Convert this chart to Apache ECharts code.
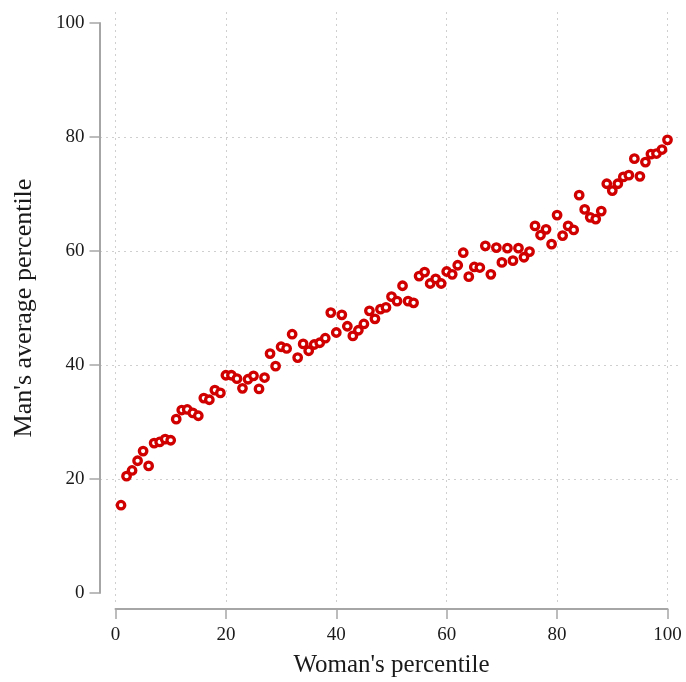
<!DOCTYPE html>
<html>
<head>
<meta charset="utf-8">
<script src="https://cdn.jsdelivr.net/npm/echarts@6/dist/echarts.min.js"></script>
<style>
  html, body { margin: 0; padding: 0; background: #fff; }
  #chart { width: 686px; height: 682px; }
</style>
</head>
<body>
<div id="chart"></div>
<script>
// Woman's percentile (1..100)
const womanPct = [
  1, 2, 3, 4, 5, 6, 7, 8, 9, 10,
  11, 12, 13, 14, 15, 16, 17, 18, 19, 20,
  21, 22, 23, 24, 25, 26, 27, 28, 29, 30,
  31, 32, 33, 34, 35, 36, 37, 38, 39, 40,
  41, 42, 43, 44, 45, 46, 47, 48, 49, 50,
  51, 52, 53, 54, 55, 56, 57, 58, 59, 60,
  61, 62, 63, 64, 65, 66, 67, 68, 69, 70,
  71, 72, 73, 74, 75, 76, 77, 78, 79, 80,
  81, 82, 83, 84, 85, 86, 87, 88, 89, 90,
  91, 92, 93, 94, 95, 96, 97, 98, 99, 100
];
// Man's average percentile for each woman's percentile
const manAvgPct = [
  15.4, 20.5, 21.5, 23.2, 24.9, 22.3, 26.3, 26.5, 27.0, 26.8,
  30.5, 32.1, 32.2, 31.6, 31.1, 34.2, 33.9, 35.6, 35.1, 38.2,
  38.2, 37.6, 35.9, 37.5, 38.1, 35.8, 37.8, 42.0, 39.8, 43.2,
  42.9, 45.4, 41.3, 43.7, 42.5, 43.6, 43.9, 44.7, 49.2, 45.7,
  48.8, 46.8, 45.1, 46.1, 47.2, 49.5, 48.1, 49.8, 50.1, 52.0,
  51.2, 53.9, 51.2, 50.9, 55.6, 56.3, 54.3, 55.1, 54.3, 56.4,
  55.9, 57.5, 59.7, 55.5, 57.2, 57.1, 60.9, 55.9, 60.6, 58.0,
  60.5, 58.3, 60.5, 58.9, 59.9, 64.4, 62.8, 63.8, 61.2, 66.3,
  62.7, 64.4, 63.7, 69.8, 67.3, 65.9, 65.6, 67.0, 71.8, 70.6,
  71.8, 73.0, 73.3, 76.2, 73.1, 75.6, 77.0, 77.1, 77.8, 79.5
];
const xTicks = [0, 20, 40, 60, 80, 100];
const yTicks = [0, 20, 40, 60, 80, 100];
const yGridValues = [20, 40, 60, 80];

const points = womanPct.map((x, i) => [x, manAvgPct[i]]);

const FONT = '"Liberation Serif", "Times New Roman", serif';
const TEXT = '#1a1a1a';
const AXIS = '#a6a6a6';

const chart = echarts.init(document.getElementById('chart'), null, { renderer: 'canvas' });

chart.setOption({
  backgroundColor: '#ffffff',
  animation: false,
  grid: [
    // data area: exactly 0..100 on both axes
    { left: 115.5, right: 18.5, top: 23, bottom: 89, containLabel: false, outerBoundsMode: 'none' },
    // slightly larger plot region carrying the dotted grid lines
    { left: 100, right: 6, top: 12, bottom: 79, containLabel: false, outerBoundsMode: 'none' }
  ],
  xAxis: [
    {
      gridIndex: 0, type: 'value', min: 0, max: 100, interval: 20,
      offset: 16,
      name: "Woman's percentile", nameLocation: 'middle', nameGap: 44,
      nameTextStyle: { fontFamily: FONT, fontSize: 25, color: TEXT },
      axisLine: { show: true, onZero: false, lineStyle: { color: AXIS, width: 2 } },
      axisTick: { show: true, length: 10, lineStyle: { color: AXIS, width: 1.5 }, customValues: xTicks },
      axisLabel: { fontFamily: FONT, fontSize: 19, color: TEXT, margin: 17, customValues: xTicks },
      splitLine: { show: false }
    },
    {
      gridIndex: 1, type: 'value', min: -2.808, max: 102.264,
      axisLine: { show: false, onZero: false }, axisLabel: { show: false },
      axisTick: { show: false, customValues: xTicks },
      splitLine: { show: true, lineStyle: { color: '#cfcfcf', width: 1, type: [2, 4] } }
    }
  ],
  yAxis: [
    {
      gridIndex: 0, type: 'value', min: 0, max: 100, interval: 20,
      offset: 16,
      name: "Man's average percentile", nameLocation: 'middle', nameGap: 62,
      nameTextStyle: { fontFamily: FONT, fontSize: 26, color: TEXT },
      axisLine: { show: true, onZero: false, lineStyle: { color: AXIS, width: 2 } },
      axisTick: { show: true, length: 10, lineStyle: { color: AXIS, width: 1.5 }, customValues: yTicks },
      axisLabel: { fontFamily: FONT, fontSize: 19, color: TEXT, margin: 15, customValues: yTicks },
      splitLine: { show: false }
    },
    {
      gridIndex: 1, type: 'value', min: -1.754, max: 101.93,
      axisLine: { show: false, onZero: false }, axisLabel: { show: false },
      axisTick: { show: false, customValues: yGridValues },
      splitLine: { show: true, lineStyle: { color: '#cfcfcf', width: 1, type: [2, 4] } }
    }
  ],
  series: [
    {
      type: 'scatter',
      xAxisIndex: 0, yAxisIndex: 0,
      data: points,
      symbol: 'circle',
      symbolSize: 7.5,
      itemStyle: { color: '#ffffff', borderColor: '#d00000', borderWidth: 3.3, opacity: 1 },
      emphasis: { disabled: true },
      z: 5
    }
  ]
});
</script>
</body>
</html>
